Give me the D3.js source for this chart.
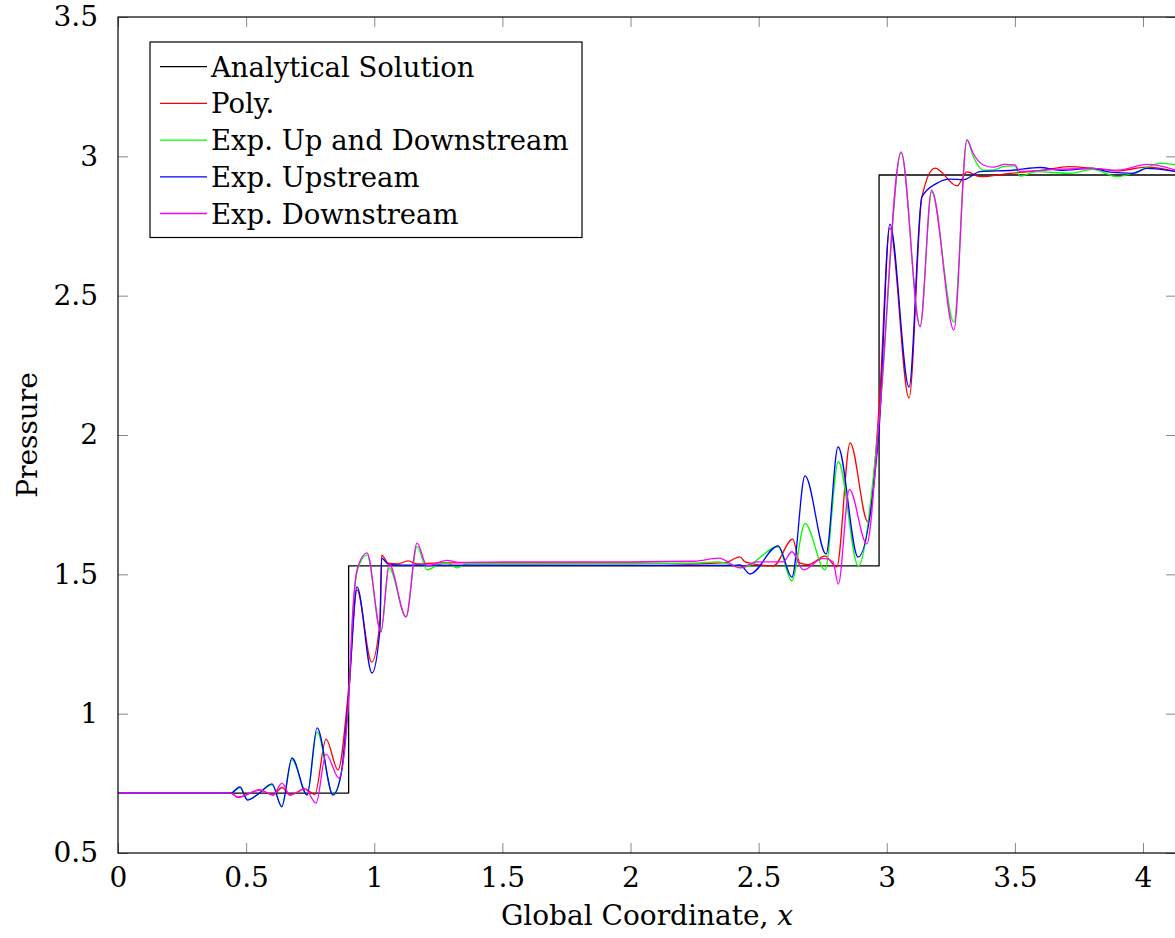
<!DOCTYPE html>
<html>
<head>
<meta charset="utf-8">
<script src="https://cdn.jsdelivr.net/npm/d3@7"></script>
<style>
  body { margin: 0; background: #fff; }
  svg { display: block; }
</style>
</head>
<body>
<svg id="chart"></svg>
<script>
// ---- data: [x, pressure] ----
let analytical = [[0, 0.715], [0.9, 1.53], [2.97, 2.933], [4.13, 2.933]];

let poly = [[0,0.715],[0.44,0.715],[0.468,0.70],[0.554,0.726],[0.605,0.708],[0.64,0.735],[0.671,0.708],
  [0.73,0.73],[0.768,0.71],[0.8117,0.909],[0.8585,0.798],[0.901,1.10],[0.9327,1.444],[0.99,1.185],
  [1.022,1.33],[1.029,1.569],[1.054,1.54],[1.089,1.537],[1.132,1.548],[1.167,1.537],[1.25,1.541],
  [1.5,1.541],[2.0,1.541],[2.232,1.537],[2.37,1.542],[2.427,1.563],[2.447,1.545],[2.557,1.530],
  [2.633,1.626],[2.661,1.540],[2.693,1.535],[2.759,1.565],[2.805,1.527],[2.857,1.972],[2.926,1.689],
  [2.97,2.10],[3.012,2.743],[3.087,2.133],[3.137,2.854],[3.188,2.958],[3.274,2.894],[3.313,2.944],
  [3.364,2.927],[3.48,2.939],[3.61,2.950],[3.71,2.963],[3.805,2.957],[3.899,2.948],[4.016,2.961],[4.13,2.945]];

let upDown = [[0,0.715],[0.44,0.715],[0.476,0.735],[0.505,0.692],[0.545,0.71],[0.601,0.745],[0.639,0.668],
  [0.679,0.835],[0.738,0.71],[0.777,0.935],[0.839,0.71],[0.87,0.78],[0.901,1.07],[0.917,1.37],[0.936,1.52],
  [0.972,1.57],[1.026,1.293],[1.058,1.523],[1.124,1.347],[1.167,1.60],[1.206,1.516],[1.25,1.535],
  [1.284,1.54],[1.323,1.523],[1.36,1.537],[1.6,1.537],[2.0,1.538],[2.25,1.540],[2.341,1.545],[2.439,1.525],
  [2.576,1.599],[2.629,1.477],[2.681,1.683],[2.759,1.516],[2.811,1.904],[2.889,1.530],[2.97,2.05],
  [3.056,3.012],[3.130,2.39],[3.175,2.872],[3.262,2.405],[3.313,3.059],[3.337,3.0],[3.377,2.950],
  [3.415,2.950],[3.454,2.963],[3.50,2.966],[3.52,2.929],[3.586,2.945],[3.715,2.939],[3.805,2.953],
  [3.899,2.927],[3.977,2.945],[4.066,2.975],[4.13,2.969]];

let upstream = [[0,0.715],[0.44,0.715],[0.476,0.737],[0.505,0.690],[0.545,0.71],[0.601,0.748],[0.639,0.666],
  [0.679,0.841],[0.738,0.708],[0.777,0.949],[0.839,0.708],[0.87,0.78],[0.901,1.08],[0.9327,1.455],
  [0.991,1.146],[1.022,1.30],[1.029,1.558],[1.054,1.537],[1.10,1.533],[1.5,1.532],[2.0,1.532],[2.40,1.532],
  [2.427,1.534],[2.466,1.501],[2.576,1.602],[2.630,1.49],[2.681,1.853],[2.763,1.573],[2.810,1.957],
  [2.888,1.562],[2.97,2.02],[3.012,2.757],[3.087,2.172],[3.137,2.854],[3.195,2.903],[3.247,2.918],
  [3.298,2.916],[3.364,2.945],[3.493,2.950],[3.598,2.960],[3.676,2.950],[3.805,2.957],[3.871,2.943],
  [3.961,2.939],[4.015,2.957],[4.13,2.945]];

let downstream = [[0,0.715],[0.44,0.715],[0.468,0.70],[0.554,0.726],[0.605,0.708],[0.64,0.751],[0.671,0.708],
  [0.73,0.73],[0.773,0.679],[0.8117,0.855],[0.862,0.769],[0.901,1.07],[0.917,1.38],[0.936,1.527],
  [0.972,1.577],[1.026,1.293],[1.058,1.537],[1.124,1.347],[1.167,1.612],[1.206,1.53],[1.284,1.55],
  [1.33,1.543],[1.5,1.545],[2.0,1.545],[2.25,1.547],[2.345,1.558],[2.427,1.523],[2.494,1.545],
  [2.596,1.545],[2.630,1.581],[2.674,1.516],[2.752,1.557],[2.79,1.545],[2.811,1.465],[2.854,1.805],
  [2.922,1.609],[2.97,2.05],[3.056,3.016],[3.130,2.388],[3.175,2.879],[3.262,2.377],[3.313,3.059],
  [3.337,3.011],[3.377,2.969],[3.415,2.961],[3.461,2.971],[3.50,2.969],[3.52,2.945],[3.571,2.948],
  [3.676,2.954],[3.805,2.957],[3.899,2.950],[4.016,2.971],[4.13,2.950]];

let seriesNames = ['Analytical Solution', 'Poly.', 'Exp. Up and Downstream', 'Exp. Upstream', 'Exp. Downstream'];
let seriesColors = ['#000000', '#ff0000', '#00ff00', '#0000ff', '#ff00ff'];
let seriesData = [analytical, poly, upDown, upstream, downstream];

let xTicks = [0, 0.5, 1, 1.5, 2, 2.5, 3, 3.5, 4];
let xTickLabels = ['0', '0.5', '1', '1.5', '2', '2.5', '3', '3.5', '4'];
let yTicks = [0.5, 1, 1.5, 2, 2.5, 3, 3.5];
let yTickLabels = ['0.5', '1', '1.5', '2', '2.5', '3', '3.5'];

// ---- layout ----
let width = 1175;
let height = 938;
let plotLeft = 118, plotRight = 1176, plotTop = 17, plotBottom = 853;
let serif = "DejaVu Serif";
let fontSize = '28px';
let legendFontSize = '27.5px';

let svg = d3.select('#chart').attr('width', width).attr('height', height)
  .attr('font-family', serif);

let xScale = d3.scaleLinear().domain([0, 4.1287]).range([plotLeft, plotRight]);
let yScale = d3.scaleLinear().domain([0.5, 3.5]).range([plotBottom, plotTop]);

svg.append('defs').append('clipPath').attr('id', 'plotclip')
  .append('rect').attr('x', plotLeft).attr('y', plotTop)
  .attr('width', plotRight - plotLeft).attr('height', plotBottom - plotTop);

// ticks (inside, mirrored on all four sides)
let tickLen = 10;
let styleTicks = g => {
  g.attr('font-family', serif).attr('font-size', fontSize);
  g.select('.domain').remove();
  g.selectAll('.tick line').attr('stroke', '#888').attr('stroke-width', 1);
  g.selectAll('.tick text').attr('fill', '#000');
};

svg.append('g').attr('transform', 'translate(0,' + plotBottom + ')')
  .call(d3.axisBottom(xScale).tickValues(xTicks).tickSizeInner(-tickLen).tickSizeOuter(0).tickPadding(14)
    .tickFormat((d, i) => xTickLabels[i]))
  .call(styleTicks);

svg.append('g').attr('transform', 'translate(0,' + plotTop + ')')
  .call(d3.axisTop(xScale).tickValues(xTicks).tickSizeInner(-tickLen).tickSizeOuter(0).tickFormat(''))
  .call(styleTicks);

svg.append('g').attr('transform', 'translate(' + plotLeft + ',0)')
  .call(d3.axisLeft(yScale).tickValues(yTicks).tickSizeInner(-tickLen).tickSizeOuter(0).tickPadding(20)
    .tickFormat((d, i) => yTickLabels[i]))
  .call(styleTicks);

svg.append('g').attr('transform', 'translate(' + plotRight + ',0)')
  .call(d3.axisRight(yScale).tickValues(yTicks).tickSizeInner(-tickLen).tickSizeOuter(0).tickFormat(''))
  .call(styleTicks);

// series
let smoothLine = d3.line()
  .x(d => xScale(d[0]))
  .y(d => yScale(d[1]))
  .curve(d3.curveMonotoneX);

let stepLine = d3.line()
  .x(d => xScale(d[0]))
  .y(d => yScale(d[1]))
  .curve(d3.curveStepAfter);

let plot = svg.append('g').attr('clip-path', 'url(#plotclip)');

seriesData.forEach((data, i) => {
  plot.append('path')
    .datum(data)
    .attr('fill', 'none')
    .attr('stroke', seriesColors[i])
    .attr('stroke-width', 1.3)
    .attr('stroke-linejoin', 'round')
    .attr('d', i === 0 ? stepLine : smoothLine);
});

// frame
svg.append('rect')
  .attr('x', plotLeft).attr('y', plotTop)
  .attr('width', plotRight - plotLeft).attr('height', plotBottom - plotTop)
  .attr('fill', 'none').attr('stroke', '#000').attr('stroke-width', 1.2);

// axis titles
let xTitle = svg.append('text')
  .attr('x', (plotLeft + plotRight) / 2).attr('y', 925)
  .attr('text-anchor', 'middle')
  .attr('font-size', fontSize);
xTitle.append('tspan').text('Global Coordinate, ');
xTitle.append('tspan').attr('font-style', 'italic').text('x');

svg.append('text')
  .attr('transform', 'translate(37,' + (plotTop + plotBottom) / 2 + ') rotate(-90)')
  .attr('text-anchor', 'middle')
  .attr('font-size', fontSize)
  .text('Pressure');

// legend
let legendX = 150, legendY = 42, rowGap = 36.7;
let legend = svg.append('g');
legend.append('rect')
  .attr('x', legendX).attr('y', legendY)
  .attr('width', 432).attr('height', 24.7 + rowGap * 4 + 24)
  .attr('fill', '#fff').attr('stroke', '#000').attr('stroke-width', 1.2);

seriesNames.forEach((name, i) => {
  let cy = legendY + 24.7 + i * rowGap;
  legend.append('line')
    .attr('x1', 160).attr('x2', 207).attr('y1', cy).attr('y2', cy)
    .attr('stroke', seriesColors[i]).attr('stroke-width', 1.3);
  legend.append('text')
    .attr('x', 211).attr('y', cy + 10)
    .attr('font-size', legendFontSize)
    .text(name);
});
</script>
</body>
</html>
